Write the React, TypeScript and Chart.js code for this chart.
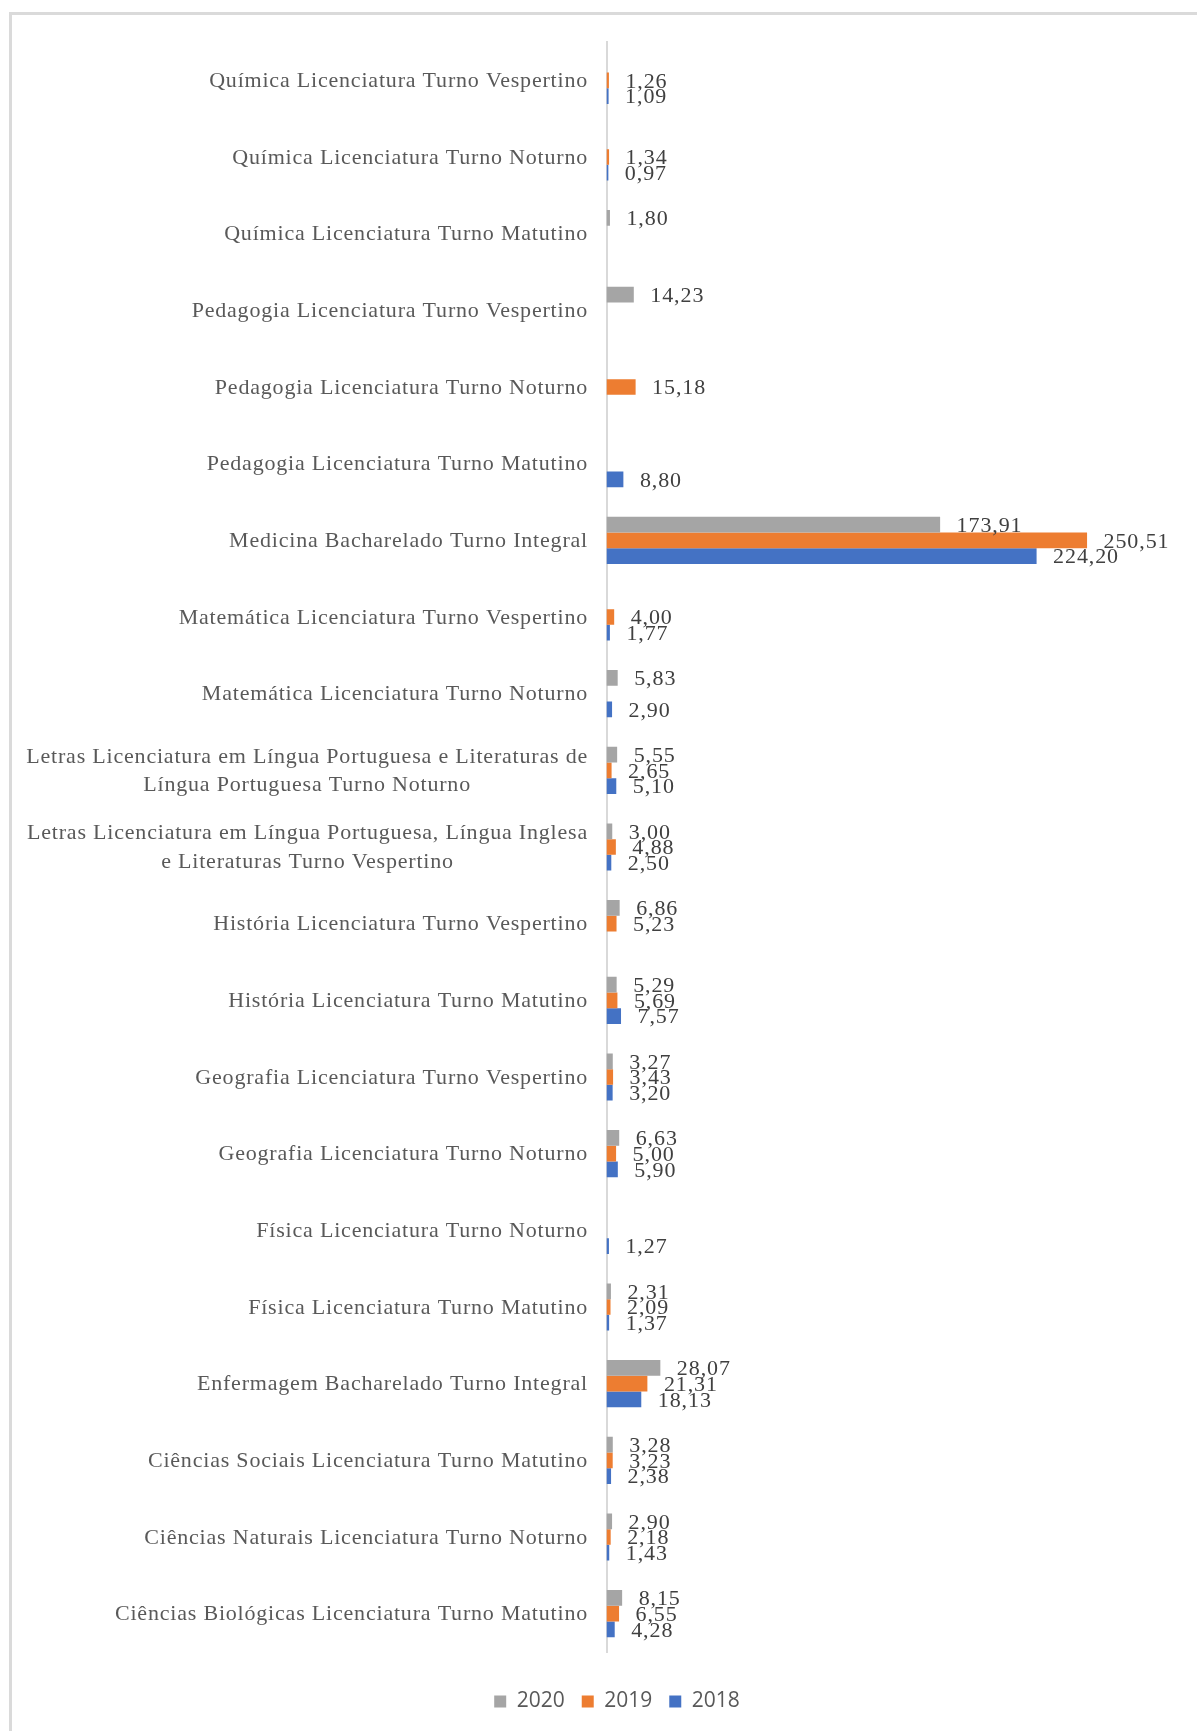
import React, { useEffect, useRef } from 'react';
import { Chart, registerables } from 'chart.js';

Chart.register(...registerables);

const categories: (string | string[])[] = [
  'Química Licenciatura Turno Vespertino',
  'Química Licenciatura Turno Noturno',
  'Química Licenciatura Turno Matutino',
  'Pedagogia Licenciatura Turno Vespertino',
  'Pedagogia Licenciatura Turno Noturno',
  'Pedagogia Licenciatura Turno Matutino',
  'Medicina Bacharelado Turno Integral',
  'Matemática Licenciatura Turno Vespertino',
  'Matemática Licenciatura Turno Noturno',
  ['Letras Licenciatura em Língua Portuguesa e Literaturas de', 'Língua Portuguesa Turno Noturno'],
  ['Letras Licenciatura em Língua Portuguesa, Língua Inglesa', 'e Literaturas Turno Vespertino'],
  'História Licenciatura Turno Vespertino',
  'História Licenciatura Turno Matutino',
  'Geografia Licenciatura Turno Vespertino',
  'Geografia Licenciatura Turno Noturno',
  'Física Licenciatura Turno Noturno',
  'Física Licenciatura Turno Matutino',
  'Enfermagem Bacharelado Turno Integral',
  'Ciências Sociais Licenciatura Turno Matutino',
  'Ciências Naturais Licenciatura Turno Noturno',
  'Ciências Biológicas Licenciatura Turno Matutino',
];

const values2020: (number | null)[] = [
  null, null, 1.8, 14.23, null, null, 173.91, null, 5.83, 5.55, 3.0,
  6.86, 5.29, 3.27, 6.63, null, 2.31, 28.07, 3.28, 2.9, 8.15,
];
const values2019: (number | null)[] = [
  1.26, 1.34, null, null, 15.18, null, 250.51, 4.0, null, 2.65, 4.88,
  5.23, 5.69, 3.43, 5.0, null, 2.09, 21.31, 3.23, 2.18, 6.55,
];
const values2018: (number | null)[] = [
  1.09, 0.97, null, null, null, 8.8, 224.2, 1.77, 2.9, 5.1, 2.5,
  null, 7.57, 3.2, 5.9, 1.27, 1.37, 18.13, 2.38, 1.43, 4.28,
];

const seriesNames = ['2020', '2019', '2018'];
const seriesColors = ['#A5A5A5', '#ED7D31', '#4472C4'];
const xMax = 300;

const categoryLabelPlugin = {
  id: 'categoryLabels',
  afterDraw(chart: any) {
    const ctx = chart.ctx as CanvasRenderingContext2D;
    const yScale = chart.scales.y;
    ctx.save();
    ctx.font = '22px "Liberation Serif"';
    (ctx as any).letterSpacing = '0.8px';
    ctx.fillStyle = '#595959';
    ctx.textBaseline = 'middle';
    ctx.textAlign = 'center';
    const right = chart.chartArea.left - 18.5;
    const lineH = 28.7;
    (chart.data.labels as (string | string[])[]).forEach((lab, i) => {
      const lines = Array.isArray(lab) ? lab : [lab];
      const maxW = Math.max(...lines.map((l) => ctx.measureText(l).width));
      const cx = right - maxW / 2;
      const cy = yScale.getPixelForValue(i) + 1;
      lines.forEach((l, j) => {
        ctx.fillText(l, cx, cy + (j - (lines.length - 1) / 2) * lineH);
      });
    });
    ctx.restore();
  },
};

const valueLabelPlugin = {
  id: 'valueLabels',
  afterDatasetsDraw(chart: any) {
    const ctx = chart.ctx as CanvasRenderingContext2D;
    ctx.save();
    ctx.font = '22px "Liberation Serif"';
    (ctx as any).letterSpacing = '0.9px';
    ctx.fillStyle = '#404040';
    ctx.textBaseline = 'middle';
    ctx.textAlign = 'left';
    chart.data.datasets.forEach((ds: any, di: number) => {
      const meta = chart.getDatasetMeta(di);
      meta.data.forEach((el: any, i: number) => {
        const v = ds.data[i];
        if (v === null || v === undefined) return;
        ctx.fillText(v.toFixed(2).replace('.', ','), el.x + 16.5, el.y + 1.5);
      });
    });
    ctx.restore();
  },
};

export default function App() {
  const canvasRef = useRef<HTMLCanvasElement | null>(null);

  useEffect(() => {
    if (!canvasRef.current) return;
    const seriesData = [values2020, values2019, values2018];
    const chart = new Chart(canvasRef.current, {
      type: 'bar',
      data: {
        labels: categories as any,
        datasets: seriesNames.map((name, i) => ({
          label: name,
          data: seriesData[i],
          backgroundColor: seriesColors[i],
          borderWidth: 0,
          categoryPercentage: 0.615,
          barPercentage: 1.0,
        })),
      },
      options: {
        indexAxis: 'y',
        responsive: false,
        animation: false,
        layout: { padding: { left: 52, right: 15, top: 42, bottom: 9 } },
        scales: {
          x: { display: false, min: 0, max: xMax },
          y: {
            display: true,
            grid: { display: false },
            ticks: { display: false },
            border: { display: true, color: '#d9d9d9', width: 2 },
            afterFit: (scale: any) => {
              scale.width = 554.5;
            },
          },
        },
        plugins: {
          tooltip: { enabled: false },
          legend: {
            position: 'bottom',
            title: { display: true, text: '', font: { size: 1 }, padding: { top: 20.8, bottom: 0 } },
            labels: {
              boxWidth: 12,
              boxHeight: 12,
              padding: 17,
              color: '#595959',
              font: { family: '"Open Sans"', size: 21 },
            },
          },
        },
      },
      plugins: [categoryLabelPlugin, valueLabelPlugin],
    });
    return () => chart.destroy();
  }, []);

  return (
    <>
      <div
        style={{
          position: 'absolute',
          left: 9,
          top: 12,
          width: 1185,
          height: 1716,
          borderTop: '3px solid #dadada',
          borderLeft: '3px solid #dadada',
          background: '#ffffff',
        }}
      />
      <canvas
        ref={canvasRef}
        width={1197}
        height={1731}
        style={{ position: 'absolute', left: 0, top: 0 }}
      />
    </>
  );
}
